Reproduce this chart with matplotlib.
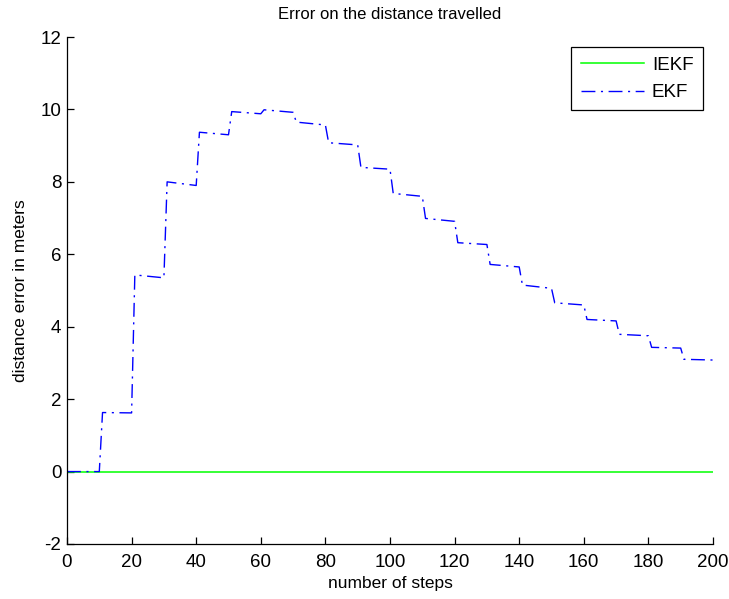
import matplotlib
matplotlib.use('Agg')
import matplotlib.pyplot as plt
import numpy as np

# corner points of the EKF error curve (step, error in m)
ekf_steps = [0, 10, 11, 20, 21, 30, 31, 40, 41, 50,
             51, 60, 61, 70, 71, 80, 81, 90, 91, 100,
             101, 110, 111, 120, 121, 130, 131, 140, 141, 150,
             151, 160, 161, 170, 171, 180, 181, 190, 191, 200]
ekf_error = [0.0, 0.0, 1.63, 1.62, 5.43, 5.35, 8.0, 7.9, 9.37, 9.3,
             9.94, 9.88, 9.99, 9.92, 9.65, 9.57, 9.08, 9.02, 8.4, 8.35,
             7.68, 7.6, 6.99, 6.91, 6.32, 6.27, 5.72, 5.65, 5.15, 5.06,
             4.66, 4.6, 4.2, 4.16, 3.79, 3.75, 3.43, 3.41, 3.1, 3.08]

iekf_steps = [0, 200]
iekf_error = [0.0, 0.0]

x_ticks = [0, 20, 40, 60, 80, 100, 120, 140, 160, 180, 200]
y_ticks = [-2, 0, 2, 4, 6, 8, 10, 12]

plt.rcParams['font.family'] = ['Liberation Sans', 'DejaVu Sans']
plt.rcParams['axes.unicode_minus'] = False

fig = plt.figure(figsize=(7.29, 5.99), dpi=100)
ax = fig.add_axes([67 / 729, 55 / 599, 646 / 729, 507 / 599])

ax.plot(iekf_steps, iekf_error, color='#00ff00', lw=1.1, label='IEKF')
line, = ax.plot(ekf_steps, ekf_error, color='#0000ff', lw=1.0, label='EKF')
line.set_dashes([10, 4, 1.5, 4])

ax.set_xlim(0, 200)
ax.set_ylim(-2, 12)
ax.set_xticks(x_ticks)
ax.set_yticks(y_ticks)

for side in ['top', 'right']:
    ax.spines[side].set_visible(False)
for side in ['left', 'bottom']:
    ax.spines[side].set_linewidth(0.9)

ax.tick_params(direction='in', length=5, width=0.9, labelsize=13.5)
ax.tick_params(axis='y', pad=4)
ax.tick_params(axis='x', pad=7)

ax.set_title('Error on the distance travelled', fontsize=12, pad=13)
ax.set_xlabel('number of steps', fontsize=12.5, labelpad=4)
ax.set_ylabel('distance error in meters', fontsize=12.5, labelpad=9)

leg = ax.legend(loc='upper right', bbox_to_anchor=(0.9845, 0.98),
                borderaxespad=0, fontsize=13.5, handlelength=3.4,
                handletextpad=0.4, fancybox=False, framealpha=1,
                edgecolor='black', borderpad=0.5, labelspacing=0.55)
leg.get_frame().set_linewidth(0.9)

fig.savefig('out.png', dpi=100)
